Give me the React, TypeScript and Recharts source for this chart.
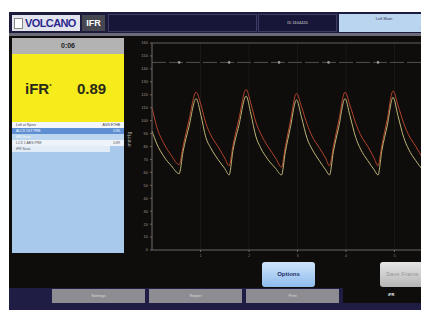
import React from "react";
import { ComposedChart, Line, Scatter, XAxis, YAxis, CartesianGrid, ReferenceLine } from "recharts";

// time (s) and pressures (mmHg)
const times = [
  0.0, 0.1, 0.25, 0.4, 0.56,
  0.64, 0.76, 0.91, 1.01, 1.11, 1.21, 1.36, 1.5, 1.59,
  1.67, 1.79, 1.94, 2.04, 2.14, 2.24, 2.39, 2.55, 2.67,
  2.75, 2.85, 2.98, 3.08, 3.2, 3.3, 3.45, 3.58, 3.66,
  3.74, 3.85, 3.98, 4.08, 4.2, 4.3, 4.45, 4.58, 4.66,
  4.74, 4.85, 4.97, 5.07, 5.19, 5.29, 5.44, 5.58, 5.67,
  5.75, 5.87, 6.0,
];
const pa = [
  110, 95, 82, 73, 66,
  80, 100, 122, 112, 98, 89, 80, 71, 65,
  81, 101, 124, 113, 99, 90, 80, 71, 64,
  80, 99, 121, 111, 97, 88, 79, 71, 65,
  80, 100, 122, 112, 98, 89, 80, 71, 65,
  81, 101, 123, 112, 98, 89, 80, 71, 65,
  80, 99, 120,
];
const pd = [
  92, 82, 72, 65, 59,
  76, 95, 117, 104, 87, 79, 70, 63, 58,
  77, 96, 119, 105, 88, 79, 70, 63, 58,
  76, 94, 116, 103, 86, 78, 69, 62, 58,
  76, 95, 117, 104, 87, 78, 69, 62, 58,
  77, 96, 118, 104, 87, 78, 69, 62, 58,
  76, 93, 113,
];
const beatMarks = [0.56, 1.59, 2.62, 3.64, 4.66, 5.67];
const markLevel = 145;
const yTicks = [0, 10, 20, 30, 40, 50, 60, 70, 80, 90, 100, 110, 120, 130, 140, 150, 160];
const xTicks = [1, 2, 3, 4, 5];
const tabs = ["Settings", "Report", "Print"];

const data = times.map((t, i) => ({ t, pa: pa[i], pd: pd[i] }));
const marks = beatMarks.map((t) => ({ t, v: markLevel }));

const font = "'Liberation Sans', Arial, sans-serif";

const Dot = (p: any) => <circle cx={p.cx} cy={p.cy} r={1.3} fill="#9c9894" />;

export default function App() {
  return (
    <div style={{ position: "relative", width: 429, height: 318, margin: -8, overflow: "hidden", background: "#fff", fontFamily: font }}>
      {/* header */}
      <div style={{ position: "absolute", left: 9, top: 12, width: 420, height: 22, background: "#1c1b3d" }} />
      <div style={{ position: "absolute", left: 12, top: 15, width: 68, height: 16, background: "#e4e4ee", display: "flex", alignItems: "center", overflow: "hidden" }}>
        <div style={{ width: 7, height: 9, background: "#fff", border: "1px solid #888", marginLeft: 2, marginRight: 2, flexShrink: 0 }} />
        <span style={{ color: "#2b2a8c", fontWeight: 900, fontSize: 11, letterSpacing: -0.6 }}>VOLCANO</span>
      </div>
      <div style={{ position: "absolute", left: 82, top: 15, width: 23, height: 16, background: "#474752", color: "#fff", fontSize: 9, fontWeight: 700, textAlign: "center", lineHeight: "16px" }}>IFR</div>
      <div style={{ position: "absolute", left: 108, top: 14, width: 149, height: 18, background: "#171639", border: "1px solid #3c3b63", boxSizing: "border-box" }} />
      <div style={{ position: "absolute", left: 258, top: 14, width: 79, height: 18, background: "#171639", border: "1px solid #3c3b63", boxSizing: "border-box", color: "#ddd", fontSize: 4, textAlign: "center", lineHeight: "16px" }}>ID 1104420</div>
      <div style={{ position: "absolute", left: 339, top: 14, width: 90, height: 18, background: "#b9d5ef", color: "#335", fontSize: 4 }}>
        <div style={{ textAlign: "center", marginTop: 2 }}>Left Main</div>
        <div style={{ textAlign: "right", marginTop: 4, marginRight: 2 }}>iFR</div>
      </div>
      <div style={{ position: "absolute", left: 9, top: 33, width: 420, height: 3, background: "#6b6a78" }} />
      {/* body */}
      <div style={{ position: "absolute", left: 9, top: 36, width: 420, height: 252, background: "#0f0d0c" }} />
      {/* left panel */}
      <div style={{ position: "absolute", left: 12, top: 38, width: 112, height: 16, background: "#b3b3b3", color: "#222", fontSize: 7, fontWeight: 700, textAlign: "center", lineHeight: "16px" }}>0:06</div>
      <div style={{ position: "absolute", left: 12, top: 54, width: 112, height: 68, background: "#f6eb1b", color: "#2a2a1a", fontWeight: 700 }}>
        <span style={{ position: "absolute", left: 13, top: 26, fontSize: 15 }}>iFR<sup style={{ fontSize: 6 }}>*</sup></span>
        <span style={{ position: "absolute", left: 65, top: 26, fontSize: 15 }}>0.89</span>
      </div>
      <div style={{ position: "absolute", left: 12, top: 122, width: 112, height: 131, background: "#a9c9ea", fontSize: 3.5 }}>
        <div style={{ height: 6, background: "#f4f6fa", color: "#444", display: "flex", justifyContent: "space-between", padding: "0 4px", lineHeight: "6px" }}><span>Left at Rpres</span><span>ASN  ETHB</span></div>
        <div style={{ height: 6, background: "#5d8fd2", color: "#fff", display: "flex", justifyContent: "space-between", padding: "0 4px", lineHeight: "6px" }}><span>ALCX 1ST PRE</span><span>0.90</span></div>
        <div style={{ height: 6, background: "#bcd6f0", color: "#fff", padding: "0 4px", lineHeight: "6px" }}>iFR Scan</div>
        <div style={{ height: 6, background: "#eef3fa", color: "#555", display: "flex", justifyContent: "space-between", padding: "0 4px", lineHeight: "6px" }}><span>LCX 1 ABS PRE</span><span>0.89</span></div>
        <div style={{ height: 6, width: 90, background: "#e2ecf7", color: "#555", padding: "0 4px", lineHeight: "6px" }}>iFR Scan</div>
      </div>
      {/* chart */}
      <div style={{ position: "absolute", left: 125, top: 36 }}>
        <ComposedChart width={318} height={230} data={data} margin={{ top: 7, right: 0, left: 0, bottom: 0 }}>
          <CartesianGrid horizontal={false} stroke="#221f1e" strokeWidth={0.6} />
          <XAxis dataKey="t" type="number" domain={[0, 6]} ticks={xTicks} height={16} stroke="#6a6662" tick={{ fontSize: 4, fill: "#7a7570" }} tickSize={2} />
          <YAxis type="number" domain={[0, 160]} ticks={yTicks} width={27} stroke="#6a6662" tick={{ fontSize: 4, fill: "#9a9590" }} tickSize={2}
            label={{ value: "mmHg", angle: -90, position: "insideLeft", offset: 4, fill: "#aaa", fontSize: 5 }} />
          <ReferenceLine y={160} stroke="#65625e" strokeWidth={1} />
          <ReferenceLine y={markLevel} stroke="#6e6b67" strokeWidth={0.7} strokeDasharray="14 3" />
          <Scatter data={marks} dataKey="v" shape={Dot} isAnimationActive={false} />
          <Line type="monotone" dataKey="pa" stroke="#b2432a" strokeWidth={1} dot={false} isAnimationActive={false} />
          <Line type="monotone" dataKey="pd" stroke="#bdb575" strokeWidth={1} dot={false} isAnimationActive={false} />
        </ComposedChart>
      </div>
      {/* buttons */}
      <div style={{ position: "absolute", left: 262, top: 262, width: 53, height: 25, borderRadius: 3, background: "linear-gradient(#cfe4fb, #8fbcec)", color: "#1d2d6a", fontSize: 6, fontWeight: 700, textAlign: "center", lineHeight: "25px" }}>Options</div>
      <div style={{ position: "absolute", left: 380, top: 262, width: 60, height: 25, borderRadius: 3, background: "linear-gradient(#e6e6e6, #b5b5b5)", color: "#999", fontSize: 6, lineHeight: "25px", paddingLeft: 6, boxSizing: "border-box" }}>Save Frame</div>
      {/* tab bar */}
      <div style={{ position: "absolute", left: 9, top: 288, width: 420, height: 30, background: "#1f1d43" }} />
      {tabs.map((t, i) => (
        <div key={t} style={{ position: "absolute", left: 52 + i * 97, top: 289, width: 93, height: 14, background: "#8d8c92", color: "#ddd", fontSize: 4, textAlign: "center", lineHeight: "14px" }}>{t}</div>
      ))}
      <div style={{ position: "absolute", left: 343, top: 288, width: 86, height: 15, background: "#0f0d0c", color: "#eee", fontSize: 4, fontWeight: 700, lineHeight: "14px", paddingLeft: 45, boxSizing: "border-box" }}>iFR</div>
    </div>
  );
}
